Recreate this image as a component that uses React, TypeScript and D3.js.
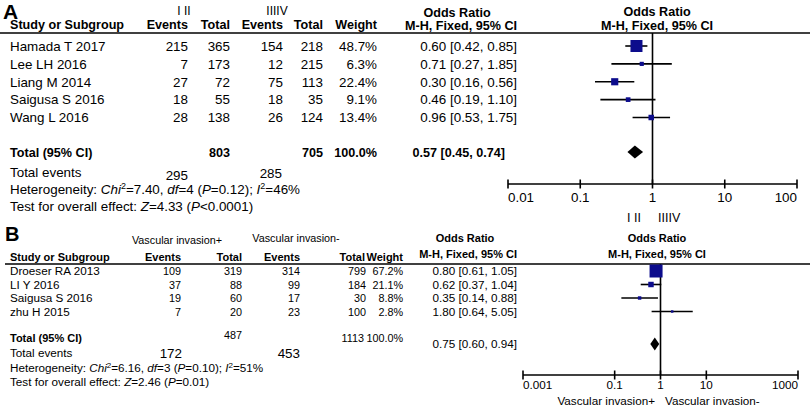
import React from "react";
import * as d3 from "d3";

// ---------- Data: panel A ----------
const studiesA = ["Hamada T 2017", "Lee LH 2016", "Liang M 2014", "Saigusa S 2016", "Wang L 2016"];
const eventsA1 = [215, 7, 27, 18, 28];
const totalA1 = [365, 173, 72, 55, 138];
const eventsA2 = [154, 12, 75, 18, 26];
const totalA2 = [218, 215, 113, 35, 124];
const weightA = [48.7, 6.3, 22.4, 9.1, 13.4];
const orA = [0.6, 0.71, 0.3, 0.46, 0.96];
const loA = [0.42, 0.27, 0.16, 0.19, 0.53];
const hiA = [0.85, 1.85, 0.56, 1.1, 1.75];
const pooledA = [0.57, 0.45, 0.74];
const sumTotalsA = [803, 705];
const sumEventsA = [295, 285];
const ticksA = [0.01, 0.1, 1, 10, 100];
const tickLabelsA = ["0.01", "0.1", "1", "10", "100"];

// ---------- Data: panel B ----------
const studiesB = ["Droeser RA 2013", "LI Y 2016", "Saigusa S 2016", "zhu H 2015"];
const eventsB1 = [109, 37, 19, 7];
const totalB1 = [319, 88, 60, 20];
const eventsB2 = [314, 99, 17, 23];
const totalB2 = [799, 184, 30, 100];
const weightB = [67.2, 21.1, 8.8, 2.8];
const orB = [0.8, 0.62, 0.35, 1.8];
const loB = [0.61, 0.37, 0.14, 0.64];
const hiB = [1.05, 1.04, 0.88, 5.05];
const pooledB = [0.75, 0.6, 0.94];
const sumTotalsB = [487, 1113];
const sumEventsB = [172, 453];
const ticksB = [0.001, 0.1, 1, 10, 1000];
const tickLabelsB = ["0.001", "0.1", "1", "10", "1000"];

const FONT = "Liberation Sans, Arial, Helvetica, sans-serif";
const MARK = "#0c0c8c";

const fmtOR = (o: number, l: number, h: number) =>
  `${o.toFixed(2)} [${l.toFixed(2)}, ${h.toFixed(2)}]`;

function Diamond({ x, lo, hi, y, h }: { x: number; lo: number; hi: number; y: number; h: number }) {
  const p = d3.path();
  p.moveTo(lo, y);
  p.lineTo(x, y - h / 2);
  p.lineTo(hi, y);
  p.lineTo(x, y + h / 2);
  p.closePath();
  return <path d={p.toString()} fill="#000" />;
}

function Axis({ scale, y, ticks, labels, fs, labelDy }: any) {
  const [r0, r1] = scale.range();
  return (
    <g>
      <line x1={r0} x2={r1} y1={y} y2={y} stroke="#000" strokeWidth={1.6} />
      {ticks.map((t: number, i: number) => (
        <g key={i}>
          <line x1={scale(t)} x2={scale(t)} y1={y - 4.5} y2={y + 4.5} stroke="#000" strokeWidth={1.6} />
          <text
            x={scale(t)}
            y={y + labelDy}
            fontSize={fs}
            textAnchor={i === 0 ? "start" : i === ticks.length - 1 ? "end" : "middle"}
          >
            {labels[i]}
          </text>
        </g>
      ))}
    </g>
  );
}

export default function App() {
  // ---------- Panel A layout ----------
  const xA = d3.scaleLog().domain([0.01, 100]).range([508, 797]);
  const rowA = d3.scalePoint<number>().domain(d3.range(studiesA.length)).range([46, 117.5]);
  const sizeA = d3.scaleLinear().domain([0, d3.max(weightA) as number]).range([3, 12]);
  const fsA = 13.4;
  const fsHA = 12.6;
  const axisYA = 184;

  // ---------- Panel B layout ----------
  const xB = d3.scaleLog().domain([0.001, 1000]).range([523, 798]);
  const rowB = d3.scalePoint<number>().domain(d3.range(studiesB.length)).range([271, 311.5]);
  const sizeB = d3.scaleLinear().domain([0, d3.max(weightB) as number]).range([2, 13]);
  const fsB = 11.7;
  const fsBn = 10.8;
  const fsHB = 11;
  const axisYB = 375;

  const colA = { ev1: 188, tot1: 230, ev2: 283, tot2: 323, w: 377, or: 517 };
  const colB = { ev1: 181, tot1: 242, ev2: 300, tot2: 366, w: 403, or: 517 };

  return (
    <svg
      width={810}
      height={409}
      style={{ position: "absolute", left: 0, top: 0, background: "#fff" }}
      fontFamily={FONT}
      fill="#000"
    >
      <rect x={0} y={0} width={810} height={409} fill="#fff" />

      {/* ================= PANEL A ================= */}
      <text x={3} y={19} fontSize={21} fontWeight="bold">A</text>
      <text x={184} y={15} fontSize={12} textAnchor="middle">{"I  II"}</text>
      <text x={277} y={15} fontSize={12} textAnchor="middle">{"IIIIV"}</text>
      <text x={457} y={17} fontSize={fsHA} fontWeight="bold" textAnchor="middle">Odds Ratio</text>
      <text x={657} y={16} fontSize={fsHA} fontWeight="bold" textAnchor="middle">Odds Ratio</text>

      <g fontSize={fsHA} fontWeight="bold">
        <text x={10} y={29}>Study or Subgroup</text>
        <text x={colA.ev1} y={29} textAnchor="end">Events</text>
        <text x={colA.tot1} y={29} textAnchor="end">Total</text>
        <text x={colA.ev2} y={29} textAnchor="end">Events</text>
        <text x={colA.tot2} y={29} textAnchor="end">Total</text>
        <text x={colA.w} y={29} textAnchor="end">Weight</text>
        <text x={colA.or} y={29.5} textAnchor="end">M-H, Fixed, 95% CI</text>
        <text x={657} y={29.5} textAnchor="middle">M-H, Fixed, 95% CI</text>
      </g>
      <line x1={0} x2={810} y1={33} y2={33} stroke="#000" strokeWidth={1.6} />

      {/* rows */}
      <g fontSize={fsA}>
        {studiesA.map((s, i) => {
          const y = (rowA(i) as number) + 4.8;
          return (
            <g key={s}>
              <text x={10} y={y}>{s}</text>
              <text x={colA.ev1} y={y} textAnchor="end">{eventsA1[i]}</text>
              <text x={colA.tot1} y={y} textAnchor="end">{totalA1[i]}</text>
              <text x={colA.ev2} y={y} textAnchor="end">{eventsA2[i]}</text>
              <text x={colA.tot2} y={y} textAnchor="end">{totalA2[i]}</text>
              <text x={colA.w} y={y} textAnchor="end">{weightA[i].toFixed(1)}%</text>
              <text x={colA.or} y={y} textAnchor="end">{fmtOR(orA[i], loA[i], hiA[i])}</text>
            </g>
          );
        })}
      </g>

      {/* totals */}
      <g fontSize={fsHA} fontWeight="bold">
        <text x={10} y={157}>Total (95% CI)</text>
        <text x={colA.tot1} y={157} textAnchor="end">{sumTotalsA[0]}</text>
        <text x={colA.tot2} y={157} textAnchor="end">{sumTotalsA[1]}</text>
        <text x={colA.w} y={157} textAnchor="end">100.0%</text>
        <text x={505} y={157} textAnchor="end">{fmtOR(pooledA[0], pooledA[1], pooledA[2])}</text>
      </g>
      <g fontSize={fsA}>
        <text x={10} y={176.5}>Total events</text>
        <text x={188} y={180} textAnchor="end">{sumEventsA[0]}</text>
        <text x={282} y={178} textAnchor="end">{sumEventsA[1]}</text>
        <text x={10} y={194}>
          Heterogeneity: <tspan fontStyle="italic">Chi</tspan>
          <tspan fontSize={9} dy={-5}>2</tspan>
          <tspan dy={5}>=7.40, </tspan>
          <tspan fontStyle="italic">df</tspan>=4 (<tspan fontStyle="italic">P</tspan>=0.12);{" "}
          <tspan fontStyle="italic">I</tspan>
          <tspan fontSize={9} dy={-5}>2</tspan>
          <tspan dy={5}>=46%</tspan>
        </text>
        <text x={10} y={211}>
          Test for overall effect: <tspan fontStyle="italic">Z</tspan>=4.33 (<tspan fontStyle="italic">P</tspan>&lt;0.0001)
        </text>
      </g>

      {/* plot A */}
      <line x1={xA(1)} x2={xA(1)} y1={33} y2={axisYA} stroke="#000" strokeWidth={1.6} />
      {studiesA.map((s, i) => {
        const y = rowA(i) as number;
        const sz = sizeA(weightA[i]);
        return (
          <g key={s}>
            <line x1={xA(loA[i])} x2={xA(hiA[i])} y1={y} y2={y} stroke="#000" strokeWidth={1.6} />
            <rect x={xA(orA[i]) - sz / 2} y={y - sz / 2} width={sz} height={sz} fill={MARK} />
          </g>
        );
      })}
      <Diamond x={xA(pooledA[0])} lo={xA(pooledA[1])} hi={xA(pooledA[2])} y={152} h={13} />
      <Axis scale={xA} y={axisYA} ticks={ticksA} labels={tickLabelsA} fs={fsA} labelDy={17.5} />
      <text x={641} y={222} fontSize={12.5} textAnchor="end">{"I  II"}</text>
      <text x={658} y={222} fontSize={12.5} textAnchor="start">{"IIIIV"}</text>

      {/* ================= PANEL B ================= */}
      <text x={5} y={241} fontSize={20} fontWeight="bold">B</text>
      <g fontSize={fsBn}>
        <text x={177} y={244} textAnchor="middle">Vascular invasion+</text>
        <text x={296} y={242} textAnchor="middle">Vascular invasion-</text>
      </g>
      <text x={465} y={242} fontSize={fsHB} fontWeight="bold" textAnchor="middle">Odds Ratio</text>
      <text x={657} y={242} fontSize={fsHB} fontWeight="bold" textAnchor="middle">Odds Ratio</text>
      <g fontSize={fsHB} fontWeight="bold">
        <text x={10} y={261}>Study or Subgroup</text>
        <text x={colB.ev1} y={261} textAnchor="end">Events</text>
        <text x={colB.tot1} y={261} textAnchor="end">Total</text>
        <text x={colB.ev2} y={261} textAnchor="end">Events</text>
        <text x={colB.tot2 - 1} y={261} textAnchor="end">Total</text>
        <text x={colB.w} y={261} textAnchor="end">Weight</text>
        <text x={colB.or} y={258} textAnchor="end">M-H, Fixed, 95% CI</text>
        <text x={657} y={258} textAnchor="middle">M-H, Fixed, 95% CI</text>
      </g>
      <line x1={5} x2={810} y1={264} y2={264} stroke="#000" strokeWidth={1.6} />

      <g>
        {studiesB.map((s, i) => {
          const y = (rowB(i) as number) + 4.2;
          return (
            <g key={s}>
              <text x={10} y={y} fontSize={fsB}>{s}</text>
              <g fontSize={fsBn}>
                <text x={colB.ev1} y={y} textAnchor="end">{eventsB1[i]}</text>
                <text x={colB.tot1} y={y} textAnchor="end">{totalB1[i]}</text>
                <text x={colB.ev2} y={y} textAnchor="end">{eventsB2[i]}</text>
                <text x={colB.tot2} y={y} textAnchor="end">{totalB2[i]}</text>
                <text x={colB.w} y={y} textAnchor="end">{weightB[i].toFixed(1)}%</text>
                <text x={colB.or} y={y} textAnchor="end" fontSize={fsB}>{fmtOR(orB[i], loB[i], hiB[i])}</text>
              </g>
            </g>
          );
        })}
      </g>

      <text x={10} y={342} fontSize={fsHB} fontWeight="bold">Total (95% CI)</text>
      <g fontSize={fsBn}>
        <text x={colB.tot1} y={339} textAnchor="end">{sumTotalsB[0]}</text>
        <text x={colB.tot2 - 2} y={342} textAnchor="end">{sumTotalsB[1]}</text>
        <text x={colB.w} y={342} textAnchor="end">100.0%</text>
      </g>
      <g fontSize={fsB}>
        <text x={colB.or} y={348} textAnchor="end">{fmtOR(pooledB[0], pooledB[1], pooledB[2])}</text>
        <text x={10} y={357}>Total events</text>
        <text x={182} y={358} fontSize={13.4} textAnchor="end">{sumEventsB[0]}</text>
        <text x={300} y={358} fontSize={13.4} textAnchor="end">{sumEventsB[1]}</text>
        <text x={10} y={372}>
          Heterogeneity: <tspan fontStyle="italic">Chi</tspan>
          <tspan fontSize={8} dy={-4.5}>2</tspan>
          <tspan dy={4.5}>=6.16, </tspan>
          <tspan fontStyle="italic">df</tspan>=3 (<tspan fontStyle="italic">P</tspan>=0.10);{" "}
          <tspan fontStyle="italic">I</tspan>
          <tspan fontSize={8} dy={-4.5}>2</tspan>
          <tspan dy={4.5}>=51%</tspan>
        </text>
        <text x={10} y={386}>
          Test for overall effect: <tspan fontStyle="italic">Z</tspan>=2.46 (<tspan fontStyle="italic">P</tspan>=0.01)
        </text>
      </g>

      {/* plot B */}
      <line x1={xB(1)} x2={xB(1)} y1={264} y2={axisYB} stroke="#000" strokeWidth={1.6} />
      {studiesB.map((s, i) => {
        const y = rowB(i) as number;
        const sz = sizeB(weightB[i]);
        return (
          <g key={s}>
            <line x1={xB(loB[i])} x2={xB(hiB[i])} y1={y} y2={y} stroke="#000" strokeWidth={1.6} />
            <rect x={xB(orB[i]) - sz / 2} y={y - sz / 2} width={sz} height={sz} fill={MARK} />
          </g>
        );
      })}
      <Diamond x={xB(pooledB[0])} lo={xB(pooledB[1])} hi={xB(pooledB[2])} y={344} h={13} />
      <Axis scale={xB} y={axisYB} ticks={ticksB} labels={tickLabelsB} fs={fsB} labelDy={14} />
      <text x={655} y={405} fontSize={fsB} textAnchor="end">Vascular invasion+</text>
      <text x={665} y={405} fontSize={fsB} textAnchor="start">Vascular invasion-</text>
    </svg>
  );
}
